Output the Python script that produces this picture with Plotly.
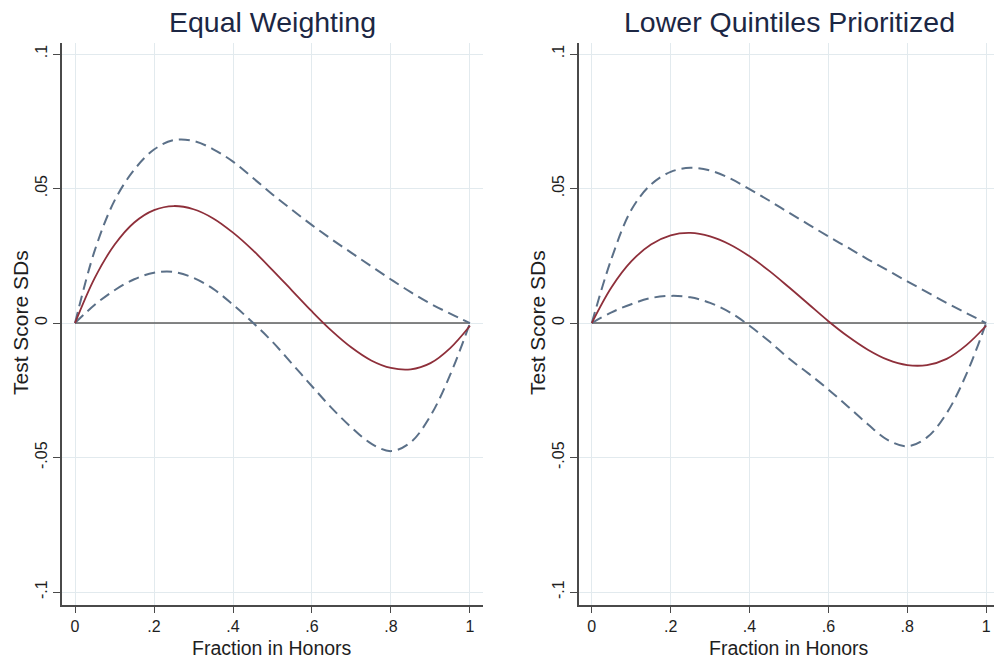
import plotly.graph_objects as go

# ---------------- data ----------------
frac = [0.00, 0.05, 0.10, 0.15, 0.20, 0.25, 0.30, 0.35, 0.40, 0.45, 0.50,
        0.55, 0.60, 0.65, 0.70, 0.75, 0.80, 0.85, 0.90, 0.95, 1.00]

# Panel 1: Equal Weighting
eq_est = [0.0, 0.0168, 0.0291, 0.0374, 0.0420, 0.0435, 0.0423, 0.0389, 0.0336, 0.0271, 0.0197,
          0.0120, 0.0043, -0.0029, -0.0091, -0.0139, -0.0167, -0.0172, -0.0149, -0.0093, -0.0010]
eq_hi = [0.0, 0.0270, 0.0455, 0.0570, 0.0645, 0.0680, 0.0677, 0.0646, 0.0600, 0.0540, 0.0478,
         0.0420, 0.0364, 0.0311, 0.0261, 0.0211, 0.0162, 0.0115, 0.0072, 0.0035, 0.0]
eq_lo = [0.0, 0.0068, 0.0122, 0.0163, 0.0187, 0.0190, 0.0168, 0.0127, 0.0068, 0.0002, -0.0070,
         -0.0152, -0.0235, -0.0316, -0.0388, -0.0448, -0.0476, -0.0443, -0.0345, -0.0192, 0.0]

# Panel 2: Lower Quintiles Prioritized
lq_est = [0.0, 0.0133, 0.0229, 0.0292, 0.0326, 0.0335, 0.0322, 0.0292, 0.0248, 0.0194, 0.0133,
          0.0070, 0.0007, -0.0050, -0.0099, -0.0136, -0.0156, -0.0156, -0.0133, -0.0082, -0.0010]
lq_hi = [0.0, 0.0240, 0.0420, 0.0515, 0.0562, 0.0577, 0.0567, 0.0538, 0.0498, 0.0455, 0.0410,
         0.0366, 0.0322, 0.0280, 0.0237, 0.0196, 0.0155, 0.0115, 0.0075, 0.0037, 0.0]
lq_lo = [0.0, 0.0040, 0.0070, 0.0093, 0.0101, 0.0096, 0.0075, 0.0040, -0.0010, -0.0068, -0.0132,
         -0.0188, -0.0247, -0.0311, -0.0376, -0.0434, -0.0458, -0.0425, -0.0335, -0.0190, 0.0]

zero_x = [0.0, 1.0]
zero_y = [0.0, 0.0]

titles = ["Equal Weighting", "Lower Quintiles Prioritized"]
x_title = "Fraction in Honors"
y_title = "Test Score SDs"
x_tickvals = [0, 0.2, 0.4, 0.6, 0.8, 1]
x_ticktext = ["0", ".2", ".4", ".6", ".8", "1"]
y_tickvals = [-0.1, -0.05, 0, 0.05, 0.1]
y_ticktext = ["-.1", "-.05", "0", ".05", ".1"]

# ---------------- styling ----------------
W, H = 994, 658
FONT = "Liberation Sans, Arial, sans-serif"
RED = "#8e2f3a"
BLUE = "#5b7088"
GRID = "#e2eaee"
AXIS = "#4a4a4a"
TITLE_C = "#1c2744"
TEXT_C = "#1e1e1e"

fig = go.Figure()

panels = [(eq_est, eq_hi, eq_lo), (lq_est, lq_hi, lq_lo)]
for i, (est, hi, lo) in enumerate(panels):
    xa = "x" if i == 0 else "x2"
    ya = "y" if i == 0 else "y2"
    fig.add_trace(go.Scatter(x=zero_x, y=zero_y, mode="lines", xaxis=xa, yaxis=ya,
                             line=dict(color="#5c5c5c", width=1.6), hoverinfo="skip",
                             showlegend=False))
    fig.add_trace(go.Scatter(x=frac, y=hi, mode="lines", xaxis=xa, yaxis=ya,
                             line=dict(color=BLUE, width=2, dash="11px,6px", shape="spline"),
                             showlegend=False))
    fig.add_trace(go.Scatter(x=frac, y=lo, mode="lines", xaxis=xa, yaxis=ya,
                             line=dict(color=BLUE, width=2, dash="11px,6px", shape="spline"),
                             showlegend=False))
    fig.add_trace(go.Scatter(x=frac, y=est, mode="lines", xaxis=xa, yaxis=ya,
                             line=dict(color=RED, width=1.8, shape="spline"),
                             showlegend=False))

def px_x(p):
    return p / W

def px_y(p):
    return 1 - p / H

y_dom = [px_y(605), px_y(43)]
x_doms = [[px_x(62), px_x(483)], [px_x(579), 1.0]]
x_ranges = [[-0.033, 1.033], [-0.0325, 1.02]]
y_range = [-0.1048, 0.1041]

common_x = dict(tickvals=x_tickvals, ticktext=x_ticktext, showgrid=True, gridcolor=GRID,
                gridwidth=1, zeroline=False, showline=True, linecolor=AXIS, linewidth=1.5,
                ticks="outside", ticklen=6, tickcolor=AXIS, tickwidth=1.2,
                tickfont=dict(family=FONT, size=16, color=TEXT_C), fixedrange=True)
common_y = dict(tickvals=y_tickvals, ticktext=y_ticktext, showgrid=True, gridcolor=GRID,
                gridwidth=1, zeroline=False, showline=True, linecolor=AXIS, linewidth=1.5,
                ticks="outside", ticklen=7, tickcolor=AXIS, tickwidth=1.2, tickangle=-90,
                tickfont=dict(family=FONT, size=16, color=TEXT_C), fixedrange=True,
                range=y_range, domain=y_dom)

fig.update_layout(
    width=W, height=H,
    margin=dict(l=0, r=0, t=0, b=0),
    paper_bgcolor="white", plot_bgcolor="white",
    xaxis=dict(common_x, domain=x_doms[0], range=x_ranges[0], anchor="y"),
    yaxis=dict(common_y, anchor="x"),
    xaxis2=dict(common_x, domain=x_doms[1], range=x_ranges[1], anchor="y2"),
    yaxis2=dict(common_y, anchor="x2"),
)

annots = []
title_centers = [272, 789]
ytitle_x = [20, 537]
for i in range(2):
    annots.append(dict(text=titles[i], x=px_x(title_centers[i]), y=px_y(22), xref="paper",
                       yref="paper", showarrow=False, xanchor="center", yanchor="middle",
                       font=dict(family=FONT, size=28.5, color=TITLE_C)))
    annots.append(dict(text=x_title, x=px_x(title_centers[i]), y=px_y(648), xref="paper",
                       yref="paper", showarrow=False, xanchor="center", yanchor="middle",
                       font=dict(family=FONT, size=19.5, color=TEXT_C)))
    annots.append(dict(text=y_title, x=px_x(ytitle_x[i]), y=px_y(323), xref="paper",
                       yref="paper", showarrow=False, xanchor="center", yanchor="middle",
                       textangle=-90,
                       font=dict(family=FONT, size=21, color=TEXT_C)))
fig.update_layout(annotations=annots)

fig.write_html("out.html")
